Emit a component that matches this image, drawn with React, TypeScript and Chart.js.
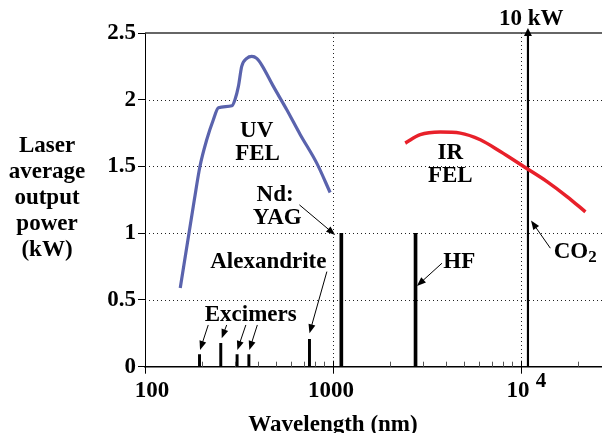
import React, { useEffect, useRef } from "react";
import { Chart, registerables } from "chart.js";

Chart.register(...registerables);

// ---- data (wavelength in nm, average power in kW) ----
const uvFelWavelength = [154, 183, 196, 213, 231, 246, 290, 301, 314, 327, 348, 370, 393, 418, 482, 568, 669, 820, 966];
const uvFelPower = [0.59, 1.25, 1.5, 1.7, 1.85, 1.94, 1.955, 2.0, 2.1, 2.25, 2.31, 2.325, 2.31, 2.26, 2.1, 1.925, 1.74, 1.525, 1.305];

const irFelWavelength = [2424, 2912, 3724, 4757, 6080, 7768, 10337, 13770, 17590, 22030];
const irFelPower = [1.675, 1.738, 1.758, 1.75, 1.7, 1.612, 1.5, 1.387, 1.275, 1.16];

const excimerWavelength = [195, 253, 309, 357];
const excimerPower = [0.09, 0.175, 0.09, 0.09];
const alexandriteWavelength = [750];
const alexandritePower = [0.205];
const kwLaserWavelength = [1108, 2750]; // Nd:YAG, HF
const kwLaserPower = [1.0, 1.0];
const co2Wavelength = [10900];
const co2Power = [10];

const yTicks = [0, 0.5, 1, 1.5, 2, 2.5];
const yGridValues = [0.5, 1, 1.5, 2];
const xGridValues = [1000, 10000];
const xMajorTicks = [100, 1000, 10000];
const xMinorTicks = [200, 300, 400, 500, 600, 700, 800, 900, 2000, 3000, 4000, 5000, 6000, 7000, 8000, 9000, 20000];
const yTitleLines = ["Laser", "average", "output", "power", "(kW)"];
const xTitle = "Wavelength (nm)";

// annotation text anchored in data coordinates
const textLabels = [
  { text: "UV", wl: 393, kw: 1.769 },
  { text: "FEL", wl: 397, kw: 1.593 },
  { text: "IR", wl: 4207, kw: 1.6 },
  { text: "FEL", wl: 4207, kw: 1.425 },
  { text: "Nd:", wl: 492, kw: 1.2875 },
  { text: "YAG", wl: 505, kw: 1.111 },
  { text: "Alexandrite", wl: 453, kw: 0.787 },
  { text: "Excimers", wl: 365, kw: 0.388 },
  { text: "HF", wl: 4699, kw: 0.787 },
  { text: "10 kW", wl: 11360, kw: 2.602 },
];

const arrows = [
  { from: [663, 1.2125], to: [1027, 0.9875] },
  { from: [928, 0.7124], to: [750, 0.2505] },
  { from: [217, 0.3127], to: [196.3, 0.1252] },
  { from: [272, 0.3127], to: [256, 0.213] },
  { from: [344, 0.3127], to: [310, 0.1252] },
  { from: [396, 0.3127], to: [359, 0.1252] },
  { from: [3801, 0.7753], to: [2797, 0.605] },
  { from: [14340, 0.8878], to: [11320, 1.0948] },
];

const FONT = "'Liberation Serif', 'Times New Roman', serif";

const pts = (xs: number[], ys: number[]) => xs.map((x, i) => ({ x, y: ys[i] }));

function drawArrow(ctx: CanvasRenderingContext2D, x1: number, y1: number, x2: number, y2: number, len = 9, half = 3.5) {
  const ang = Math.atan2(y2 - y1, x2 - x1);
  const bx = x2 - Math.cos(ang) * (len - 1);
  const by = y2 - Math.sin(ang) * (len - 1);
  ctx.beginPath();
  ctx.moveTo(x1, y1);
  ctx.lineTo(bx, by);
  ctx.stroke();
  ctx.beginPath();
  ctx.moveTo(x2, y2);
  ctx.lineTo(x2 - Math.cos(ang) * len - Math.sin(ang) * half, y2 - Math.sin(ang) * len + Math.cos(ang) * half);
  ctx.lineTo(x2 - Math.cos(ang) * len + Math.sin(ang) * half, y2 - Math.sin(ang) * len - Math.cos(ang) * half);
  ctx.closePath();
  ctx.fill();
}

const overlay = {
  id: "overlay",
  beforeDatasetsDraw(chart: any) {
    const { ctx, chartArea: a, scales } = chart;
    const x = scales.x, y = scales.y;
    ctx.save();
    ctx.strokeStyle = "#222";
    ctx.lineWidth = 1;
    ctx.setLineDash([1, 3]);
    for (const v of yGridValues) {
      const py = Math.round(y.getPixelForValue(v)) + 0.5;
      ctx.beginPath(); ctx.moveTo(a.left, py); ctx.lineTo(a.right, py); ctx.stroke();
    }
    for (const v of xGridValues) {
      const px = Math.round(x.getPixelForValue(v)) + 0.5;
      ctx.beginPath(); ctx.moveTo(px, a.top); ctx.lineTo(px, a.bottom); ctx.stroke();
    }
    ctx.setLineDash([]);
    ctx.strokeStyle = "#333";
    ctx.lineWidth = 1.3;
    ctx.beginPath(); ctx.moveTo(a.left, a.top); ctx.lineTo(a.right, a.top); ctx.stroke();
    ctx.restore();
  },
  afterDraw(chart: any) {
    const { ctx, chartArea: a, scales } = chart;
    const x = scales.x, y = scales.y;
    ctx.save();
    ctx.strokeStyle = "#000";
    ctx.fillStyle = "#000";
    // x tick marks
    ctx.lineWidth = 1;
    for (const v of xMajorTicks) {
      const px = Math.round(x.getPixelForValue(v)) + 0.5;
      ctx.beginPath(); ctx.moveTo(px, a.bottom - 6); ctx.lineTo(px, a.bottom + 7); ctx.stroke();
    }
    ctx.strokeStyle = "#555";
    for (const v of xMinorTicks) {
      const px = Math.round(x.getPixelForValue(v)) + 0.5;
      ctx.beginPath(); ctx.moveTo(px, a.bottom - 5); ctx.lineTo(px, a.bottom); ctx.stroke();
    }
    // x tick labels
    ctx.font = `bold 23px ${FONT}`;
    ctx.textAlign = "center";
    ctx.textBaseline = "alphabetic";
    const base = a.bottom + 30;
    ctx.fillText("100", x.getPixelForValue(100) + 7, base);
    ctx.fillText("1000", x.getPixelForValue(1000) - 2, base);
    ctx.fillText("10", x.getPixelForValue(10000) - 3, base);
    ctx.font = `bold 21px ${FONT}`;
    ctx.fillText("4", x.getPixelForValue(10000) + 20, base - 10);

    // titles
    ctx.font = `bold 23px ${FONT}`;
    ctx.textAlign = "center";
    yTitleLines.forEach((t, i) => ctx.fillText(t, 47, 152 + i * 26));
    ctx.fillText(xTitle, 333, 431);

    // annotation texts
    ctx.textBaseline = "middle";
    for (const l of textLabels) {
      ctx.fillText(l.text, x.getPixelForValue(l.wl), y.getPixelForValue(l.kw));
    }
    // CO2 with subscript
    const coX = x.getPixelForValue(14930), coY = y.getPixelForValue(0.862);
    ctx.textAlign = "left";
    ctx.fillText("CO", coX, coY);
    const w = ctx.measureText("CO").width;
    ctx.font = `bold 17px ${FONT}`;
    ctx.fillText("2", coX + w, coY + 6);

    // arrows
    ctx.strokeStyle = "#000";
    ctx.lineWidth = 1;
    for (const ar of arrows) {
      drawArrow(ctx, x.getPixelForValue(ar.from[0]), y.getPixelForValue(ar.from[1]), x.getPixelForValue(ar.to[0]), y.getPixelForValue(ar.to[1]));
    }
    // CO2 off-scale arrow head (10 kW)
    const cx = x.getPixelForValue(co2Wavelength[0]);
    ctx.beginPath();
    ctx.moveTo(cx, a.top - 5);
    ctx.lineTo(cx - 4, a.top + 3);
    ctx.lineTo(cx + 4, a.top + 3);
    ctx.closePath();
    ctx.fill();
    ctx.restore();
  },
};

export default function App() {
  const ref = useRef<HTMLCanvasElement>(null);
  useEffect(() => {
    document.body.style.margin = "0";
    const canvas = ref.current!;
    const chart = new Chart(canvas, {
      type: "line",
      data: {
        datasets: [
          {
            type: "line",
            data: pts(uvFelWavelength, uvFelPower),
            borderColor: "#5a63ad",
            borderWidth: 3.2,
            pointRadius: 0,
            cubicInterpolationMode: "monotone",
          } as any,
          {
            type: "line",
            data: pts(irFelWavelength, irFelPower),
            borderColor: "#e8202a",
            borderWidth: 3.5,
            pointRadius: 0,
            cubicInterpolationMode: "monotone",
          } as any,
          {
            type: "bar",
            data: pts([...excimerWavelength, ...alexandriteWavelength], [...excimerPower, ...alexandritePower]),
            backgroundColor: "#000",
            barThickness: 2.3,
            grouped: false,
          } as any,
          {
            type: "bar",
            data: pts(kwLaserWavelength, kwLaserPower),
            backgroundColor: "#000",
            barThickness: 3,
            grouped: false,
          } as any,
          {
            type: "bar",
            data: pts(co2Wavelength, co2Power),
            backgroundColor: "#000",
            barThickness: 1.5,
            grouped: false,
            clip: 0,
          } as any,
        ],
      },
      options: {
        responsive: false,
        animation: false,
        events: [],
        layout: { padding: { top: 33, left: 0, right: 0, bottom: 0 } },
        plugins: { legend: { display: false }, tooltip: { enabled: false } },
        scales: {
          x: {
            type: "logarithmic",
            min: 100,
            max: 27000,
            offset: false,
            ticks: { display: false },
            grid: { display: false, drawTicks: false },
            border: { display: true, color: "#000", width: 1.5 },
            afterFit: (s: any) => { s.height = 66.3; },
          },
          y: {
            type: "linear",
            min: 0,
            max: 2.5,
            afterBuildTicks: (s: any) => { s.ticks = yTicks.map((v) => ({ value: v })); },
            ticks: {
              stepSize: 0.5,
              color: "#000",
              padding: 2,
              font: { family: FONT, size: 23, weight: "bold" },
              callback: (v: any) => String(v),
            },
            grid: { drawOnChartArea: false, drawTicks: true, tickLength: 7, color: "#000", lineWidth: 1 },
            border: { display: true, color: "#000", width: 1 },
            afterFit: (s: any) => { s.width = 145; },
          },
        },
      } as any,
      plugins: [overlay],
    });
    return () => chart.destroy();
  }, []);
  return <canvas ref={ref} width={602} height={433} style={{ display: "block" }} />;
}
